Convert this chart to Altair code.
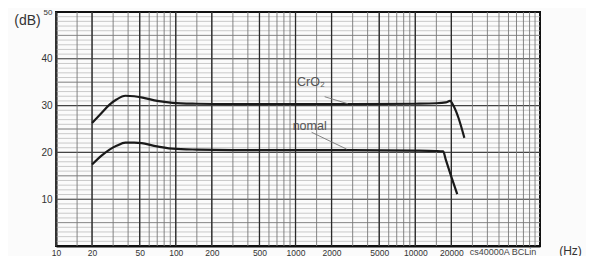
import altair as alt
import pandas as pd

# ---- data ----
cro2_freq = [20, 24, 28, 32, 38, 45, 55, 70, 94, 150, 300, 1000, 3000, 10000, 15000, 18000, 19500, 21000, 23000, 25700]
cro2_db   = [26.3, 28.4, 30.2, 31.3, 32.1, 32.0, 31.6, 31.0, 30.6, 30.4, 30.3, 30.3, 30.3, 30.4, 30.5, 30.7, 31.0, 29.8, 27.3, 23.1]

normal_freq = [20, 24, 28, 32, 38, 45, 52, 66, 94, 150, 300, 1000, 3000, 10000, 15000, 17100, 18000, 19700, 22400]
normal_db   = [17.4, 19.3, 20.6, 21.4, 22.1, 22.1, 22.0, 21.4, 20.8, 20.6, 20.5, 20.5, 20.5, 20.4, 20.3, 20.2, 18.4, 15.3, 11.1]

x_labels = [10, 20, 50, 100, 200, 500, 1000, 2000, 5000, 10000, 20000]
y_labels = [10, 20, 30, 40, 50]

x_minor = sorted(set([m * 10 ** d for d in range(1, 5) for m in [1, 1.5, 2, 3, 4, 5, 6, 7, 8, 9]] + [100000]))
x_major = x_labels
y_minor = list(range(1, 50))
y_mid = [5, 15, 25, 35, 45]
y_major = [10, 20, 30, 40]

ann_text = ["CrO\u2082", "nomal"]
ann_freq = [1030, 946]
ann_db = [35.1, 25.6]

lead_f1 = [1750, 1362]
lead_f2 = [2735, 2672]
lead_d1 = [31.9, 24.3]
lead_d2 = [30.4, 20.7]

ext_label = ["cs40000A BCLin"]
ext_freq = [54000]

FONT = "Liberation Sans"

xs = alt.Scale(type="log", domain=[10, 110000], nice=False)
ys = alt.Scale(domain=[0, 50], nice=False, zero=False)

X_AX = alt.Axis(values=x_labels, format="d", grid=False, ticks=False,
                domain=True, domainColor="#111", domainWidth=2,
                labelFont=FONT, labelFontSize=8.5, labelColor="#333",
                labelPadding=2, labelOverlap=False, labelFlush=False,
                title="(Hz)", titleFont=FONT, titleFontSize=12,
                titleFontWeight="normal", titleColor="#333",
                titleX=514, titleY=4, titleAlign="center", titleBaseline="middle")
Y_AX = alt.Axis(values=y_labels, grid=False, ticks=False,
                domain=True, domainColor="#111", domainWidth=2,
                labelFont=FONT, labelColor="#333",
                labelFontSize={"condition": {"test": "datum.value == 50", "value": 8}, "value": 10},
                labelPadding=4,
                title="(dB)", titleFont=FONT, titleFontSize=14,
                titleFontWeight="normal", titleColor="#333", titleAngle=0,
                titleX=-29, titleY=8, titleAlign="center", titleBaseline="middle")

curves = pd.concat([
    pd.DataFrame({"f": cro2_freq, "db": cro2_db, "s": "CrO2"}),
    pd.DataFrame({"f": normal_freq, "db": normal_db, "s": "normal"}),
])

def vrules(vals, color, w):
    return alt.Chart(pd.DataFrame({"f": vals})).mark_rule(color=color, strokeWidth=w).encode(
        x=alt.X("f:Q", scale=xs, axis=X_AX))

def hrules(vals, color, w):
    return alt.Chart(pd.DataFrame({"db": vals})).mark_rule(color=color, strokeWidth=w).encode(
        y=alt.Y("db:Q", scale=ys, axis=Y_AX))

grid = alt.layer(
    hrules(y_minor, "#b4b4b4", 0.7),
    hrules(y_mid, "#888888", 0.9),
    hrules(y_major, "#444444", 1.1),
    vrules(x_minor, "#777777", 0.9),
    vrules(x_major, "#2a2a2a", 1.3),
)

lines = alt.Chart(curves).mark_line(color="#1a1a1a", strokeWidth=2.2, interpolate="monotone").encode(
    x=alt.X("f:Q", scale=xs, axis=X_AX),
    y=alt.Y("db:Q", scale=ys, axis=Y_AX),
    detail="s:N",
)

ann = alt.Chart(pd.DataFrame({"t": ann_text, "f": ann_freq, "db": ann_db})).mark_text(
    font=FONT, fontSize=12.5, color="#555", align="left", baseline="middle").encode(
    x=alt.X("f:Q", scale=xs, axis=X_AX), y=alt.Y("db:Q", scale=ys, axis=Y_AX), text="t:N")

leaders = alt.Chart(pd.DataFrame({"f": lead_f1, "f2": lead_f2, "db": lead_d1, "d2": lead_d2})).mark_rule(
    color="#777", strokeWidth=0.9).encode(
    x=alt.X("f:Q", scale=xs, axis=X_AX), x2="f2:Q", y=alt.Y("db:Q", scale=ys, axis=Y_AX), y2="d2:Q")

ext = alt.Chart(pd.DataFrame({"t": ext_label, "f": ext_freq, "db": [0]})).mark_text(
    font=FONT, fontSize=9, color="#444", align="center", baseline="top", dy=1.5).encode(
    x=alt.X("f:Q", scale=xs, axis=X_AX), y=alt.Y("db:Q", scale=ys, axis=Y_AX), text="t:N")

chart = alt.layer(grid, lines, leaders, ann, ext).properties(
    width=484, height=234,
    autosize=alt.AutoSizeParams(type="none"),
    padding={"left": 48, "top": 4, "right": 46, "bottom": 10},
    background="#fbfbfb",
).configure_view(stroke="#111", strokeWidth=2)

chart.save("out.html", embed_options={"renderer": "svg", "actions": False})
